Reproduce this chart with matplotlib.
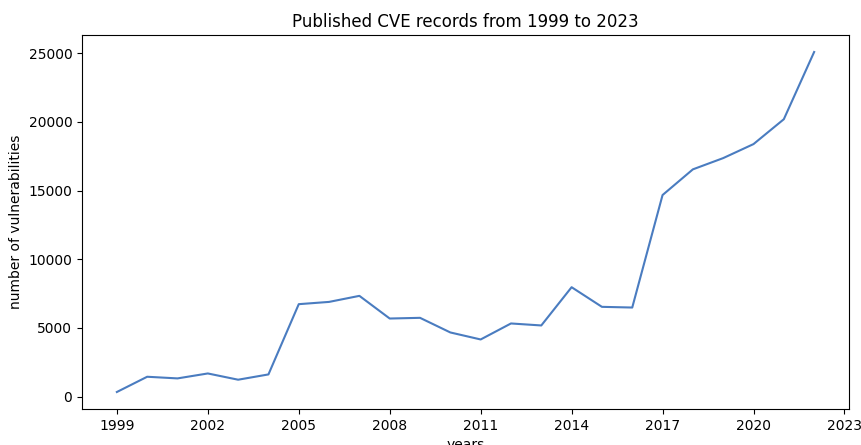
import matplotlib
matplotlib.use('Agg')
import matplotlib.pyplot as plt

years = [1999, 2000, 2001, 2002, 2003, 2004, 2005, 2006, 2007, 2008, 2009, 2010,
         2011, 2012, 2013, 2014, 2015, 2016, 2017, 2018, 2019, 2020, 2021, 2022]
cves = [340, 1450, 1330, 1690, 1235, 1620, 6735, 6900, 7340, 5690, 5740, 4675,
        4165, 5330, 5185, 7970, 6540, 6490, 14680, 16550, 17370, 18390, 20200, 25095]
xticks = list(range(1999, 2024, 3))

fig = plt.figure(figsize=(8.61, 4.45), dpi=100)
ax = fig.add_axes([82/861, 1 - 409/445, 767/861, 374/445])

ax.plot(years, cves, color='#4a7cc0', linewidth=1.5)
ax.set_xticks(xticks)
ax.set_title('Published CVE records from 1999 to 2023', fontsize=12)
ax.set_xlabel('years', fontsize=10)
ax.set_ylabel('number of vulnerabilities', fontsize=10)
ax.tick_params(labelsize=10)

plt.savefig('out.png', dpi=100)
